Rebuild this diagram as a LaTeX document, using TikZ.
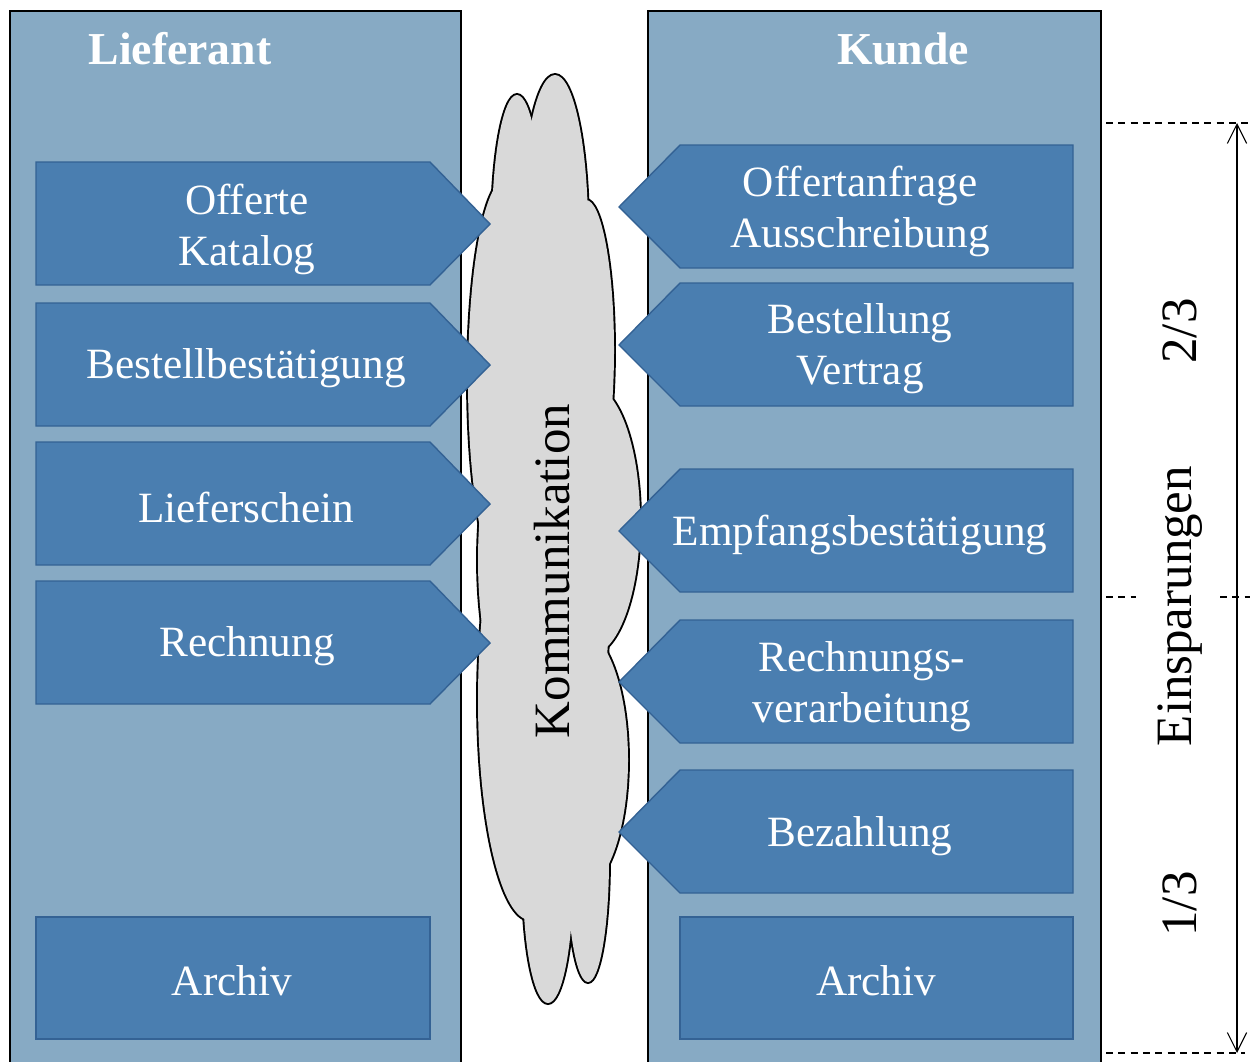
\documentclass[tikz,border=0pt]{standalone}
\usepackage{fontspec}
\setmainfont{Liberation Serif}
\usetikzlibrary{arrows.meta}
\definecolor{panelblue}{RGB}{135,170,196}
\definecolor{boxblue}{RGB}{74,126,176}
\definecolor{boxedge}{RGB}{52,98,148}
\definecolor{cloudgray}{RGB}{217,217,217}
\tikzset{
  panel/.style={fill=panelblue,draw=black,line width=0.9pt},
  stepbox/.style={fill=boxblue,draw=boxedge,line width=0.8pt,line join=miter},
  boxtext/.style={text=white,font=\fontsize{24.6}{29}\selectfont,align=center,inner sep=0pt},
  title/.style={text=white,font=\fontsize{26}{30}\selectfont\bfseries,inner sep=0pt},
  bigtext/.style={text=black,font=\fontsize{29}{34}\selectfont,rotate=90,inner sep=0pt},
  dimline/.style={black,line width=0.6pt},
  dashline/.style={black,line width=0.6pt,dash pattern=on 4pt off 3pt},
}
\begin{document}
\begin{tikzpicture}[x=0.02cm,y=-0.02cm]
\clip (0,0) rectangle (1250,1061);
\fill[white] (0,0) rectangle (1250,1061);
% panels
\draw[panel] (10,11) rectangle (461,1075);
\draw[panel] (648,11) rectangle (1101,1075);
\node[title] (lief) at (180,49) {Lieferant};
\node[title] (kunde) at (903,49) {Kunde};
% cloud
\def\bumps{517/230/25/135, 555/230/33/155, 505/380/37/200, 586/350/28/150, 590/520/50/135, 580/760/48/130, 530/700/52/220, 548/880/25/123, 588/860/21/122, 520/560/42/150, 555/560/55/300}
\foreach \cx/\cy/\rx/\ry in \bumps {\draw[black,line width=2.2pt] (\cx,\cy) ellipse [x radius=\rx, y radius=\ry];}
\foreach \cx/\cy/\rx/\ry in \bumps {\fill[cloudgray] (\cx,\cy) ellipse [x radius=\rx, y radius=\ry];}
% left arrows
\foreach \n/\t in {l1/162, l2/303, l3/442, l4/581} {
  \draw[stepbox] (36,\t) -- (430,\t) -- (490,\t+62) -- (430,\t+123) -- (36,\t+123) -- cycle;
}
\draw[stepbox] (36,917) rectangle (430,1039);
% right arrows
\foreach \n/\t in {r1/145, r2/283, r3/469, r4/620, r5/770} {
  \draw[stepbox] (1073,\t) -- (680,\t) -- (619,\t+62) -- (680,\t+123) -- (1073,\t+123) -- cycle;
}
\draw[stepbox] (680,917) rectangle (1073,1039);
% texts left
\node[boxtext] (t1) at (247,229) {Offerte\\Katalog};
\node[boxtext] (t2) at (246,368) {Bestellbestätigung};
\node[boxtext] (t3) at (246,507) {Lieferschein};
\node[boxtext] (t4) at (247,646) {Rechnung};
\node[boxtext] (t5) at (232,981) {Archiv};
% texts right
\node[boxtext] (u1) at (860,211) {Offertanfrage\\Ausschreibung};
\node[boxtext] (u2) at (860,349) {Bestellung\\Vertrag};
\node[boxtext] (u3) at (860,535) {Empfangsbestätigung};
\node[boxtext] (u4) at (862,687) {Rechnungs-\\verarbeitung};
\node[boxtext] (u5) at (860,836) {Bezahlung};
\node[boxtext] (u6) at (876,981) {Archiv};
% Kommunikation
\node[bigtext] (komm) at (552,571) {Kommunikation};
% dimension
\coordinate (dtop) at (1237,123);
\coordinate (dbot) at (1237,1053);
\draw[dashline] (1106,123) -- (1250,123);
\draw[dashline] (1106,1053) -- (1245,1053);
\draw[dashline] (1106,597) -- (1136,597);
\draw[dashline] (1220,597) -- (1250,597);
\draw[dimline,{Straight Barb[length=11pt,width=11pt]}-{Straight Barb[length=11pt,width=11pt]}] (dtop) -- (dbot);
\node[bigtext] (d23) at (1180,331) {2/3};
\node[bigtext] (dein) at (1180,606) {Einsparungen};
\node[bigtext] (d13) at (1180,904) {1/3};
\end{tikzpicture}
\end{document}
